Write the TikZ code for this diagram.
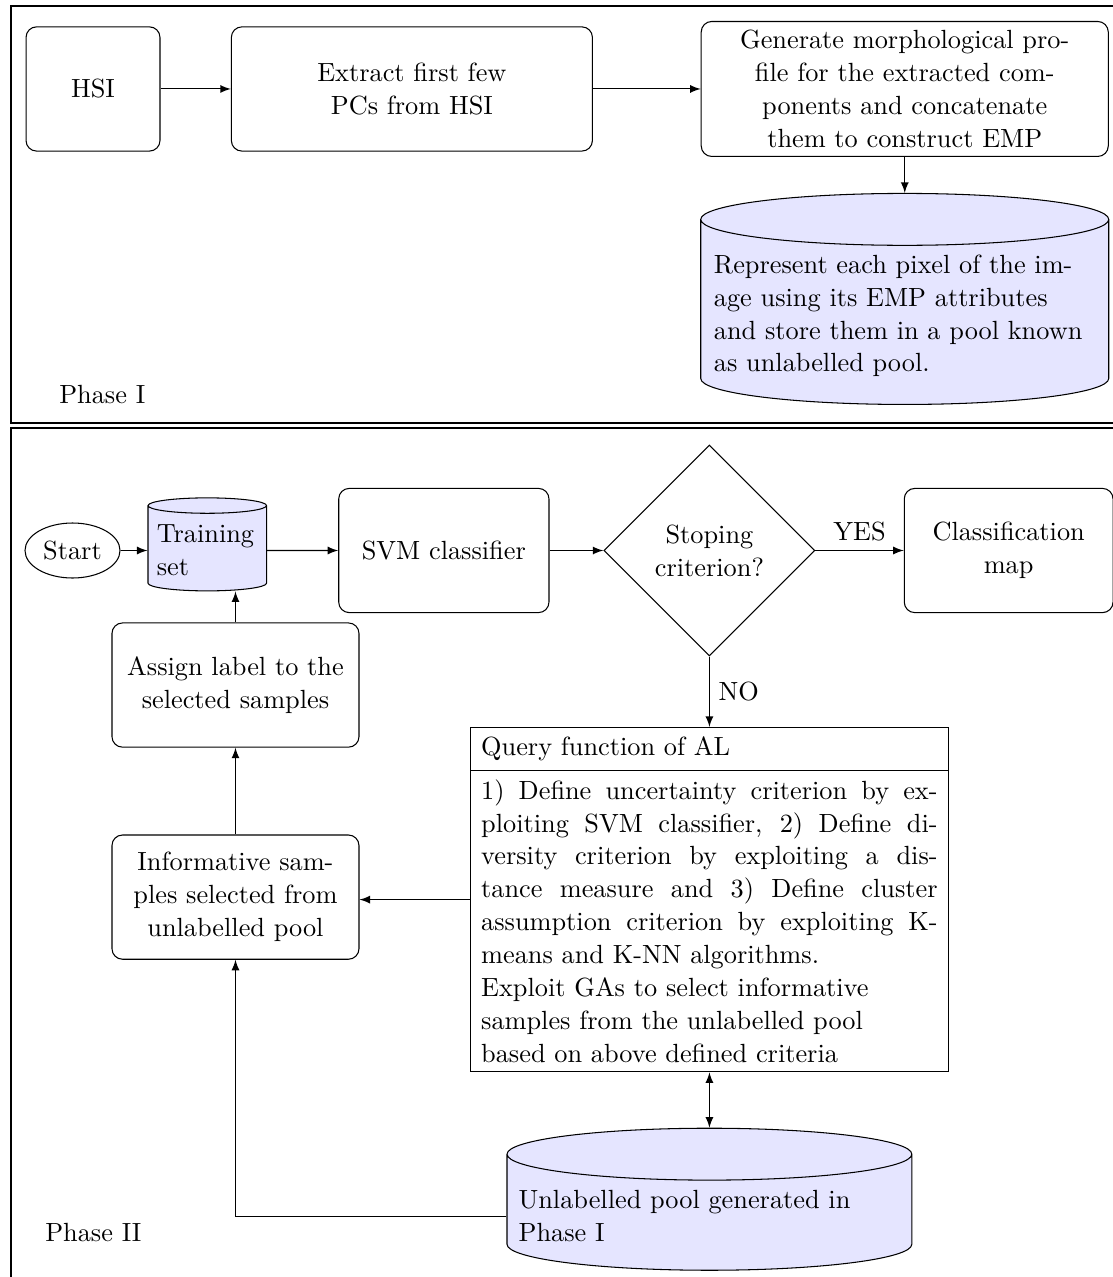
\documentclass[tikz,border=0pt]{standalone}
\usetikzlibrary{positioning,shapes.geometric,shapes.multipart}

\begin{document}
\begin{tikzpicture}[
    font=\fontsize{10pt}{12.5pt}\selectfont,
    block/.style={rectangle, draw, rounded corners, minimum height=1.66cm, align=center},
    store/.style={cylinder, shape border rotate=90, draw, fill=blue!10, aspect=0.13, align=left, text width=5.1cm},
    decision/.style={diamond, draw, aspect=1, minimum width=2.82cm, minimum height=2.82cm, align=center},
    query/.style={rectangle split, rectangle split parts=2, draw, text width=6.1cm, inner xsep=4pt, align=justify},
    arrow/.style={->, >=latex}
]
    \useasboundingbox (0,0) rectangle (14.874,-17.066);
    \clip (0,0) rectangle (14.874,-17.066);

    % Phase I
    \draw (0.147,-0.080) rectangle (15.2,-5.653);
    \node[anchor=west] (phaseone) at (0.668,-5.279) {Phase I};

    \node[block, minimum width=1.79cm] (hsi) at (1.243,-1.189) {HSI};
    \node[block, minimum width=4.825cm, text width=2.8cm, right=0.94cm of hsi] (extract) {Extract first few PCs from HSI};
    \node[block, minimum width=5.44cm, minimum height=1.777cm, text width=4.6cm, right=1.44cm of extract] (generate) {Generate morphological pro-\\file for the extracted com-\\ponents and concatenate\\them to construct EMP};
    \node[store, minimum width=5.453cm, minimum height=2.82cm, below=0.48cm of generate] (emp) {Represent each pixel of the image using its EMP attributes and store them in a pool known as unlabelled pool.};

    \draw[arrow] (hsi) -- (extract);
    \draw[arrow] (extract) -- (generate);
    \draw[arrow] (generate) -- (emp);

    % Phase II
    \draw (0.147,-5.720) rectangle (15.2,-17.4);
    \node[anchor=west] (phasetwo) at (0.481,-16.465) {Phase II};

    \node[ellipse, draw, inner sep=1pt, minimum width=1.27cm, minimum height=0.735cm] (start) at (0.969,-7.357) {Start};
    \node[store, text width=1.35cm, minimum width=1.564cm, minimum height=1.243cm, right=0.36cm of start] (train) {Training set};
    \node[block, minimum width=2.81cm, right=0.95cm of train] (svm) {SVM classifier};
    \node[decision, right=0.72cm of svm] (decide) {Stoping\\criterion?};
    \node[block, minimum width=2.79cm, text width=2.3cm, right=1.18cm of decide] (classmap) {Classification map};
    \node[query, below=0.94cm of decide] (select) {Query function of AL
        \nodepart{two} 1) Define uncertainty criterion by ex-\linebreak
        ploiting SVM classifier, 2) Define di-\linebreak
        versity criterion by exploiting a dis-\linebreak
        tance measure and 3) Define cluster\linebreak
        assumption criterion by exploiting K-\linebreak
        means and K-NN algorithms.\\
        Exploit GAs to select informative\\
        samples from the unlabelled pool\\
        based on above defined criteria};
    \node[block, minimum width=3.301cm, text width=3cm] (assign) at (3.147,-9.155) {Assign label to the selected samples};
    \node[block, minimum width=3.301cm, text width=3cm, below=1.16cm of assign] (info) {Informative samples selected from unlabelled pool};
    \node[store, minimum width=5.41cm, minimum height=1.898cm, below=0.74cm of select] (pool) {Unlabelled pool generated in Phase I};

    \draw[arrow] (start) -- (train);
    \draw[arrow] (train) -- (svm);
    \draw[arrow] (svm) -- (decide);
    \draw[arrow] (decide) -- node[above] {YES} (classmap);
    \draw[arrow] (decide) -- node[right] {NO} (select);
    \draw[arrow] (select.west) -- (info.east |- select.west);
    \draw[arrow] (info) -- (assign);
    \draw[arrow] (assign.north) -- (assign.north |- train.south);
    \draw[<->, >=latex] (pool) -- (select);
    \draw[arrow] (pool.west) -| (info.south);
\end{tikzpicture}
\end{document}
